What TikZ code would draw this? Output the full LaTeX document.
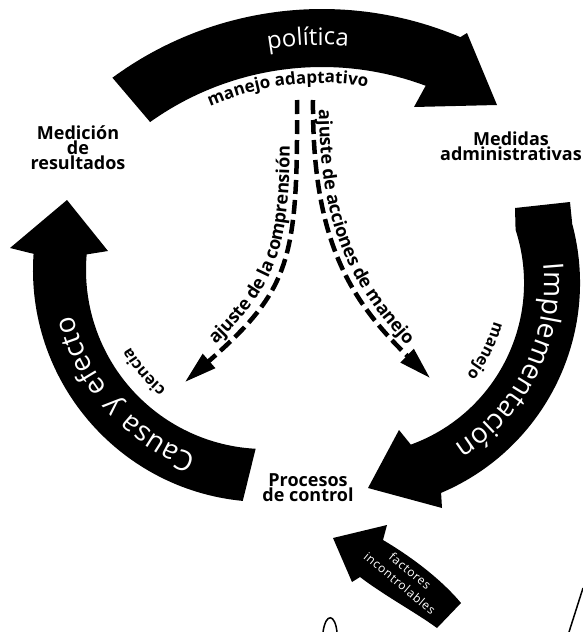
\documentclass[tikz,border=0pt]{standalone}
\usepackage{fontspec}
\setmainfont{Open Sans}
\newfontfamily\thinA[LetterSpace=20]{Open Sans}
\newfontfamily\thinB[LetterSpace=9]{Open Sans}
\newfontfamily\thinC[LetterSpace=6]{Open Sans}
\usetikzlibrary{decorations.text,arrows.meta,calc}
\tikzset{
  lbl/.style={font=\bfseries\fontsize{18}{13.5}\selectfont, inner sep=0pt, align=center},
  band/.style={fill=black},
  dashline/.style={line width=4.5pt, dash pattern=on 14pt off 6pt, -{Triangle[length=32pt,width=18pt]}},
}
\begin{document}
\begin{tikzpicture}[x=1pt,y=1pt]
\useasboundingbox (0,0) rectangle (583,-632);
\fill[white] (0,0) rectangle (583,-632);
\coordinate (c1) at (322,-363);
\coordinate (c2) at (265,-270);
\coordinate (c3) at (352,-283);

% top arrow: politica
\fill[band] ($(c1)+(126.3:354pt)$) arc[start angle=126.3,end angle=67,radius=354pt]
  -- (467,-33) -- (497,-105) -- (414,-107)
  -- ($(c1)+(69.5:296pt)$) arc[start angle=69.5,end angle=125.5,radius=296pt] -- cycle;
% left arrow: causa y efecto
\fill[band] ($(c2)+(-95.5:232pt)$) arc[start angle=-95.5,end angle=-184,radius=232pt]
  -- (10,-248) -- (67,-200) -- (108,-251)
  -- ($(c2)+(-185:179pt)$) arc[start angle=-185,end angle=-93,radius=179pt] -- cycle;
% right arrow: implementacion
\fill[band] (570,-202) -- ($(c3)+(15:228pt)$) arc[start angle=15,end angle=-67,radius=228pt]
  -- (442,-508) -- (368,-488) -- (399,-430)
  -- ($(c3)+(-70:172pt)$) arc[start angle=-70,end angle=18,radius=172pt] -- (515,-208) -- cycle;
% small arrow: factores incontrolables
\fill[band] (333,-538) -- (387,-525) -- (383,-540) .. controls (410,-556) and (440,-578) .. (461,-603)
  -- (437,-628) .. controls (415,-612) and (385,-596) .. (360,-577) -- (352,-582) -- cycle;

% labels
\node[lbl] (med) at (78,-148) {Medición\\de\\resultados};
\node[lbl] (adm) at (511,-146) {Medidas\\administrativas};
\node[lbl] (proc) at (308,-488) {Procesos\\de control};

% white curved texts
\path[decorate, decoration={text along path, text align=center, text color=white,
  text={|\thinA\fontsize{24}{24}\selectfont|política}}]
  ($(c1)+(115:318pt)$) arc[start angle=115,end angle=70,radius=318pt];
\path[decorate, decoration={text along path, text align=center, text color=white,
  text={|\thinB\fontsize{28}{28}\selectfont|Causa y efecto}}]
  ($(c2)+(-100:197pt)$) arc[start angle=-100,end angle=-176.8,radius=197pt];
\path[decorate, decoration={text along path, text align=center, text color=white,
  text={|\thinB\fontsize{28}{28}\selectfont|Implementación}}]
  ($(c3)+(18:192pt)$) arc[start angle=18,end angle=-70,radius=192pt];

% black curved texts
\path[decorate, decoration={text along path, text align=center,
  text={|\bfseries\fontsize{17}{17}\selectfont|manejo adaptativo}}]
  ($(c1)+(124.2:280pt)$) arc[start angle=124.2,end angle=70,radius=280pt];
\path[decorate, decoration={text along path, text align=center,
  text={|\bfseries\fontsize{16}{16}\selectfont|ciencia}}]
  ($(c2)+(-118:155pt)$) arc[start angle=-118,end angle=-162,radius=155pt];
\path[decorate, decoration={text along path, text align=center,
  text={|\bfseries\fontsize{16}{16}\selectfont|manejo}}]
  ($(c3)+(-5:147pt)$) arc[start angle=-5,end angle=-49,radius=147pt];

% dashed arrows
\coordinate (dl0) at (297,-100);
\coordinate (dl1) at (185,-382);
\coordinate (dr0) at (313,-100);
\coordinate (dr1) at (430,-378);
\draw[dashline] (dl0) .. controls (298,-260) and (290,-290) .. (dl1);
\draw[dashline] (dr0) .. controls (312,-240) and (350,-300) .. (dr1);
\path[decorate, decoration={text along path, raise=7pt, text align={left indent=48pt},
  text={|\bfseries\fontsize{18}{18}\selectfont|ajuste de la comprensión}}]
  (dl1) .. controls (290,-290) and (298,-260) .. (dl0);
\path[decorate, decoration={text along path, raise=6pt, text align={left indent=10pt},
  text={|\bfseries\fontsize{18}{18}\selectfont|ajuste de acciones de manejo}}]
  (dr0) .. controls (312,-240) and (350,-300) .. (dr1);

% factores incontrolables
\node[rotate=-40, text=white, align=center, inner sep=0pt,
  font=\thinC\fontsize{12}{16}\selectfont] (fi) at (405,-577) {factores\\incontrolables};

% scribbles
\draw[line width=1.5pt] (323,-632) .. controls (326,-612) and (335,-614) .. (337,-632);
\draw[line width=1.5pt] (583,-588) -- (569,-632);
\end{tikzpicture}
\end{document}
